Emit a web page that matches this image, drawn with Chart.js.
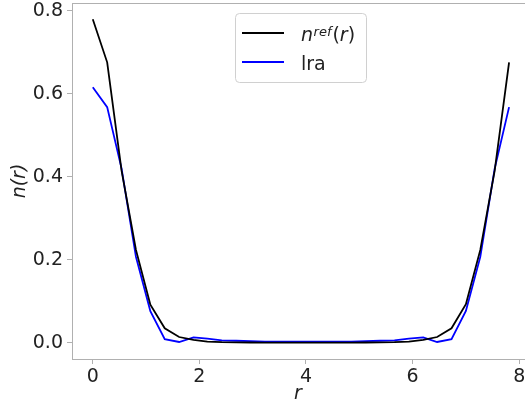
<!DOCTYPE html>
<html>
<head>
<meta charset="utf-8">
<script src="https://cdn.jsdelivr.net/npm/chart.js@4.4.1/dist/chart.umd.min.js"></script>
<style>
  html, body { margin: 0; padding: 0; background: #fff; overflow: hidden; }
  #wrap { width: 525px; height: 406px; }
</style>
</head>
<body>
<div id="wrap"><canvas id="chart" width="525" height="406"></canvas></div>
<script>
// radial grid (30 points) and the two densities
const r = [0, 0.27, 0.54, 0.81, 1.08, 1.35, 1.62, 1.89, 2.15, 2.42,
  2.69, 2.96, 3.23, 3.5, 3.77, 4.04, 4.31, 4.58, 4.85, 5.12,
  5.39, 5.66, 5.93, 6.2, 6.46, 6.73, 7.0, 7.27, 7.54, 7.81];
const nRef = [0.78, 0.676, 0.415, 0.224, 0.092, 0.035, 0.014, 0.007, 0.003, 0.0015,
  0.001, 0.0008, 0.0006, 0.0005, 0.0005, 0.0005, 0.0005, 0.0005, 0.0006, 0.0008,
  0.001, 0.0015, 0.003, 0.007, 0.014, 0.035, 0.093, 0.224, 0.415, 0.676];
const lra = [0.616, 0.568, 0.42, 0.207, 0.076, 0.009, 0.002, 0.013, 0.010, 0.006,
  0.005, 0.004, 0.003, 0.003, 0.003, 0.003, 0.003, 0.003, 0.003, 0.004,
  0.005, 0.006, 0.010, 0.013, 0.002, 0.009, 0.077, 0.207, 0.42, 0.568];
const xTicks = [0, 2, 4, 6, 8];
const yTicks = [0, 0.2, 0.4, 0.6, 0.8];
const xRange = [-0.39, 8.09];
const yRange = [-0.039, 0.819];

const FONT = '"DejaVu Sans", sans-serif';
const spineColor = '#b0b0b0';
const textColor = '#222';

function toPoints(ys) {
  return r.map((x, i) => ({ x: x, y: ys[i] }));
}

// matplotlib draws a top spine too
const topSpine = {
  id: 'topSpine',
  afterDraw(chart) {
    const { ctx, chartArea } = chart;
    ctx.save();
    ctx.strokeStyle = spineColor;
    ctx.lineWidth = 1;
    ctx.beginPath();
    ctx.moveTo(chartArea.left, chartArea.top + 0.5);
    ctx.lineTo(chartArea.right + 2, chartArea.top + 0.5);
    ctx.stroke();
    ctx.restore();
  }
};

// legend with the n^ref(r) superscript label
const mathLegend = {
  id: 'mathLegend',
  afterDraw(chart) {
    const { ctx, chartArea } = chart;
    const cx = (chartArea.left + chartArea.right) / 2;
    const bx = cx - 63, by = chartArea.top + 10, bw = 131, bh = 69;
    ctx.save();
    ctx.fillStyle = 'rgba(255,255,255,0.8)';
    ctx.strokeStyle = '#d0d0d0';
    ctx.lineWidth = 1;
    ctx.beginPath();
    ctx.roundRect(bx + 0.5, by + 0.5, bw, bh, 4);
    ctx.fill();
    ctx.stroke();

    const rows = [
      { color: '#000000', y: by + 20 },
      { color: '#0000ff', y: by + 49 }
    ];
    rows.forEach(row => {
      ctx.strokeStyle = row.color;
      ctx.lineWidth = 1.8;
      ctx.beginPath();
      ctx.moveTo(bx + 7, row.y);
      ctx.lineTo(bx + 49, row.y);
      ctx.stroke();
    });

    ctx.fillStyle = textColor;
    ctx.textBaseline = 'alphabetic';
    const tx = bx + 66;
    let x = tx;
    let base = rows[0].y + 7.5;
    ctx.font = 'italic 19px ' + FONT;
    ctx.fillText('n', x, base);
    x += ctx.measureText('n').width + 0.5;
    ctx.font = 'italic 13px ' + FONT;
    ctx.fillText('ref', x, base - 5);
    x += ctx.measureText('ref').width + 1;
    ctx.font = '19px ' + FONT;
    ctx.fillText('(', x, base);
    x += ctx.measureText('(').width;
    ctx.font = 'italic 19px ' + FONT;
    ctx.fillText('r', x, base);
    x += ctx.measureText('r').width;
    ctx.font = '19px ' + FONT;
    ctx.fillText(')', x, base);

    ctx.fillText('lra', tx, rows[1].y + 7.5);
    ctx.restore();
  }
};

new Chart(document.getElementById('chart'), {
  type: 'line',
  data: {
    datasets: [
      {
        label: 'n^ref(r)',
        data: toPoints(nRef),
        borderColor: '#000000',
        borderWidth: 1.8,
        pointRadius: 0,
        tension: 0,
        fill: false
      },
      {
        label: 'lra',
        data: toPoints(lra),
        borderColor: '#0000ff',
        borderWidth: 1.8,
        pointRadius: 0,
        tension: 0,
        fill: false
      }
    ]
  },
  options: {
    responsive: false,
    animation: false,
    devicePixelRatio: 1,
    layout: { autoPadding: false, padding: { top: 3, right: 1, left: 0, bottom: 0 } },
    plugins: {
      legend: { display: false },
      tooltip: { enabled: false }
    },
    scales: {
      x: {
        type: 'linear',
        min: xRange[0],
        max: xRange[1],
        afterBuildTicks: (s) => { s.ticks = xTicks.map(v => ({ value: v })); },
        afterFit: (s) => { s.height = 47; s.paddingLeft = 0; s.paddingRight = 0; },
        grid: { drawOnChartArea: false, drawTicks: true, tickLength: 5, color: spineColor },
        border: { color: spineColor, width: 1 },
        ticks: {
          color: textColor,
          padding: 2,
          maxRotation: 0,
          autoSkip: false,
          font: { family: FONT, size: 19 },
          callback: (v) => String(v)
        },
        title: {
          display: true,
          text: 'r',
          color: textColor,
          padding: { top: 0, bottom: 1 },
          font: { family: FONT, size: 19, style: 'italic' }
        }
      },
      y: {
        type: 'linear',
        min: yRange[0],
        max: yRange[1],
        afterBuildTicks: (s) => { s.ticks = yTicks.map(v => ({ value: v })); },
        afterFit: (s) => { s.width = 72; s.paddingTop = 0; s.paddingBottom = 0; },
        grid: { drawOnChartArea: false, drawTicks: true, tickLength: 5, color: spineColor },
        border: { color: spineColor, width: 1 },
        ticks: {
          color: textColor,
          padding: 4,
          autoSkip: false,
          font: { family: FONT, size: 19 },
          callback: (v) => v.toFixed(1)
        },
        title: {
          display: true,
          text: 'n(r)',
          color: textColor,
          padding: { top: 9, bottom: 0 },
          font: { family: FONT, size: 19, style: 'italic' }
        }
      }
    }
  },
  plugins: [topSpine, mathLegend]
});
</script>
</body>
</html>
